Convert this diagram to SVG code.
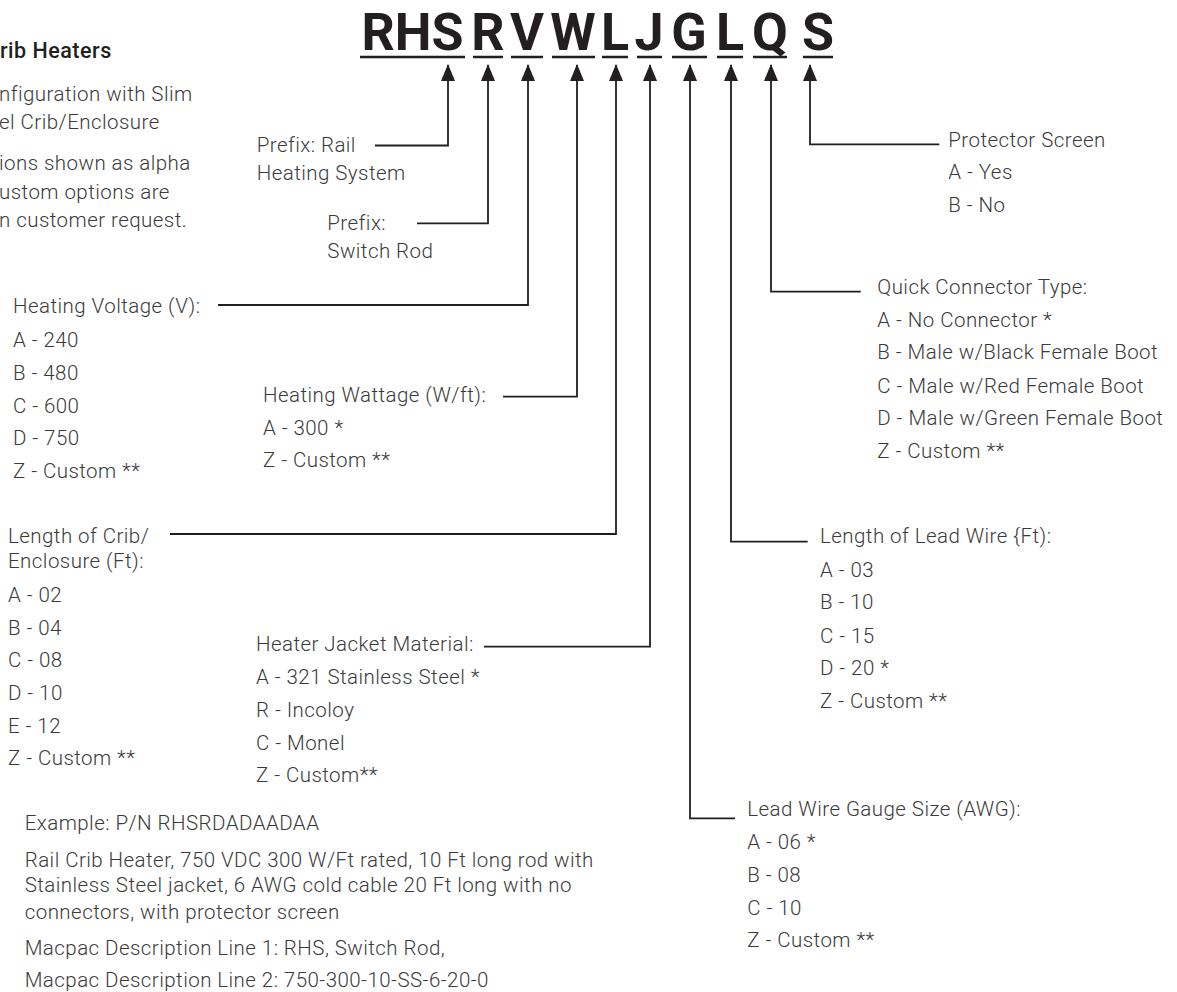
<svg xmlns="http://www.w3.org/2000/svg" width="1177" height="992" viewBox="0 0 1177 992">
<style>
  .t { font-family: Roboto, "Liberation Sans", sans-serif; font-size: 20.5px; letter-spacing: 0.45px; font-weight: 300; fill: #3a3a3a; }
  .title { font-family: Roboto, "Liberation Sans", sans-serif; font-size: 21.5px; letter-spacing: 0.5px; font-weight: 500; fill: #231f20; }
  .code { font-family: Roboto, "Liberation Sans", sans-serif; font-size: 52px; font-weight: 700; fill: #231f20; text-anchor: middle; }
  .ul { stroke: #231f20; stroke-width: 2.6; fill: none; }
  .conn { stroke: #231f20; stroke-width: 1.8; fill: none; marker-end: url(#arrow); }
</style>
<defs>
  <marker id="arrow" markerUnits="userSpaceOnUse" viewBox="0 -7 17 14" markerWidth="17" markerHeight="14" refX="16" refY="0" orient="auto">
    <path d="M0,-7 L17,0 L0,7 z" fill="#231f20"/>
  </marker>
</defs>
<rect width="1177" height="992" fill="#ffffff"/>

<g id="header">
  <text class="code" x="412.5" y="50">RHS</text>
  <text class="code" x="488" y="50">R</text>
  <text class="code" x="527" y="50">V</text>
  <text class="code" x="573" y="50">W</text>
  <text class="code" x="615" y="50">L</text>
  <text class="code" x="649" y="50">J</text>
  <text class="code" x="689" y="50">G</text>
  <text class="code" x="730" y="50">L</text>
  <text class="code" x="770" y="50">Q</text>
  <text class="code" x="818" y="50">S</text>
  <path class="ul" d="M360,57 H465 M473,57 H503 M511,57 H543 M552,57 H595 M602,57 H628 M637,57 H662 M672,57 H707 M717,57 H743 M753,57 H787 M803,57 H833"/>
</g>

<g id="notes">
  <text class="title" x="0" y="58">rib Heaters</text>
  <text class="t" x="-1" y="101">nfiguration with Slim</text>
  <text class="t" x="-1" y="128.5">el Crib/Enclosure</text>
  <text class="t" x="-1" y="170">ions shown as alpha</text>
  <text class="t" x="-1" y="199">ustom options are</text>
  <text class="t" x="-1" y="227">n customer request.</text>
</g>

<g id="connectors">
  <path class="conn" d="M375,145.5 H448 V65"/>
  <path class="conn" d="M417,223.3 H488 V65"/>
  <path class="conn" d="M218,305 H528 V65"/>
  <path class="conn" d="M503,396.7 H577 V65"/>
  <path class="conn" d="M170,534 H616 V65"/>
  <path class="conn" d="M484,646.7 H650 V65"/>
  <path class="conn" d="M735,818.3 H690 V65"/>
  <path class="conn" d="M807.7,541.7 H731 V65"/>
  <path class="conn" d="M860.7,291.7 H771 V65"/>
  <path class="conn" d="M939.3,144.3 H810 V65"/>
</g>

<g id="prefix-rail">
  <text class="t" x="256.7" y="151.7">Prefix: Rail</text>
  <text class="t" x="256.7" y="180">Heating System</text>
</g>
<g id="prefix-switch">
  <text class="t" x="327.3" y="230">Prefix:</text>
  <text class="t" x="327.3" y="258.3">Switch Rod</text>
</g>
<g id="voltage">
  <text class="t" x="13" y="313">Heating Voltage (V):</text>
  <text class="t" x="13" y="346.5">A - 240</text>
  <text class="t" x="13" y="379.5">B - 480</text>
  <text class="t" x="13" y="412.5">C - 600</text>
  <text class="t" x="13" y="445">D - 750</text>
  <text class="t" x="13" y="478">Z - Custom **</text>
</g>
<g id="wattage">
  <text class="t" x="263" y="401.7">Heating Wattage (W/ft):</text>
  <text class="t" x="263" y="435">A - 300 *</text>
  <text class="t" x="263" y="467.3">Z - Custom **</text>
</g>
<g id="crib-length">
  <text class="t" x="8" y="542.7">Length of Crib/</text>
  <text class="t" x="8" y="568.3">Enclosure (Ft):</text>
  <text class="t" x="8" y="601.7">A - 02</text>
  <text class="t" x="8" y="634.5">B - 04</text>
  <text class="t" x="8" y="667.3">C - 08</text>
  <text class="t" x="8" y="700">D - 10</text>
  <text class="t" x="8" y="732.7">E - 12</text>
  <text class="t" x="8" y="765.3">Z - Custom **</text>
</g>
<g id="jacket">
  <text class="t" x="256" y="651">Heater Jacket Material:</text>
  <text class="t" x="256" y="684">A - 321 Stainless Steel *</text>
  <text class="t" x="256" y="716.7">R - Incoloy</text>
  <text class="t" x="256" y="749.5">C - Monel</text>
  <text class="t" x="256" y="781.7">Z - Custom**</text>
</g>
<g id="gauge">
  <text class="t" x="747.3" y="816">Lead Wire Gauge Size (AWG):</text>
  <text class="t" x="747.3" y="849.3">A - 06 *</text>
  <text class="t" x="747.3" y="881.7">B - 08</text>
  <text class="t" x="747.3" y="915">C - 10</text>
  <text class="t" x="747.3" y="947.3">Z - Custom **</text>
</g>
<g id="lead-length">
  <text class="t" x="820" y="543.3">Length of Lead Wire {Ft):</text>
  <text class="t" x="820" y="576.7">A - 03</text>
  <text class="t" x="820" y="609.3">B - 10</text>
  <text class="t" x="820" y="642.7">C - 15</text>
  <text class="t" x="820" y="675">D - 20 *</text>
  <text class="t" x="820" y="708.3">Z - Custom **</text>
</g>
<g id="connector-type">
  <text class="t" x="877.3" y="294.3">Quick Connector Type:</text>
  <text class="t" x="877.3" y="326.7">A - No Connector *</text>
  <text class="t" x="877.3" y="359.3">B - Male w/Black Female Boot</text>
  <text class="t" x="877.3" y="392.7">C - Male w/Red Female Boot</text>
  <text class="t" x="877.3" y="425">D - Male w/Green Female Boot</text>
  <text class="t" x="877.3" y="458.3">Z - Custom **</text>
</g>
<g id="protector">
  <text class="t" x="948.3" y="146.7">Protector Screen</text>
  <text class="t" x="948.3" y="179.3">A - Yes</text>
  <text class="t" x="948.3" y="211.7">B - No</text>
</g>
<g id="example">
  <text class="t" x="24.7" y="830">Example: P/N RHSRDADAADAA</text>
  <text class="t" x="24.7" y="866.5">Rail Crib Heater, 750 VDC 300 W/Ft rated, 10 Ft long rod with</text>
  <text class="t" x="24.7" y="892">Stainless Steel jacket, 6 AWG cold cable 20 Ft long with no</text>
  <text class="t" x="24.7" y="918.5">connectors, with protector screen</text>
  <text class="t" x="24.7" y="954.5">Macpac Description Line 1: RHS, Switch Rod,</text>
  <text class="t" x="24.7" y="987">Macpac Description Line 2: 750-300-10-SS-6-20-0</text>
</g>
</svg>
